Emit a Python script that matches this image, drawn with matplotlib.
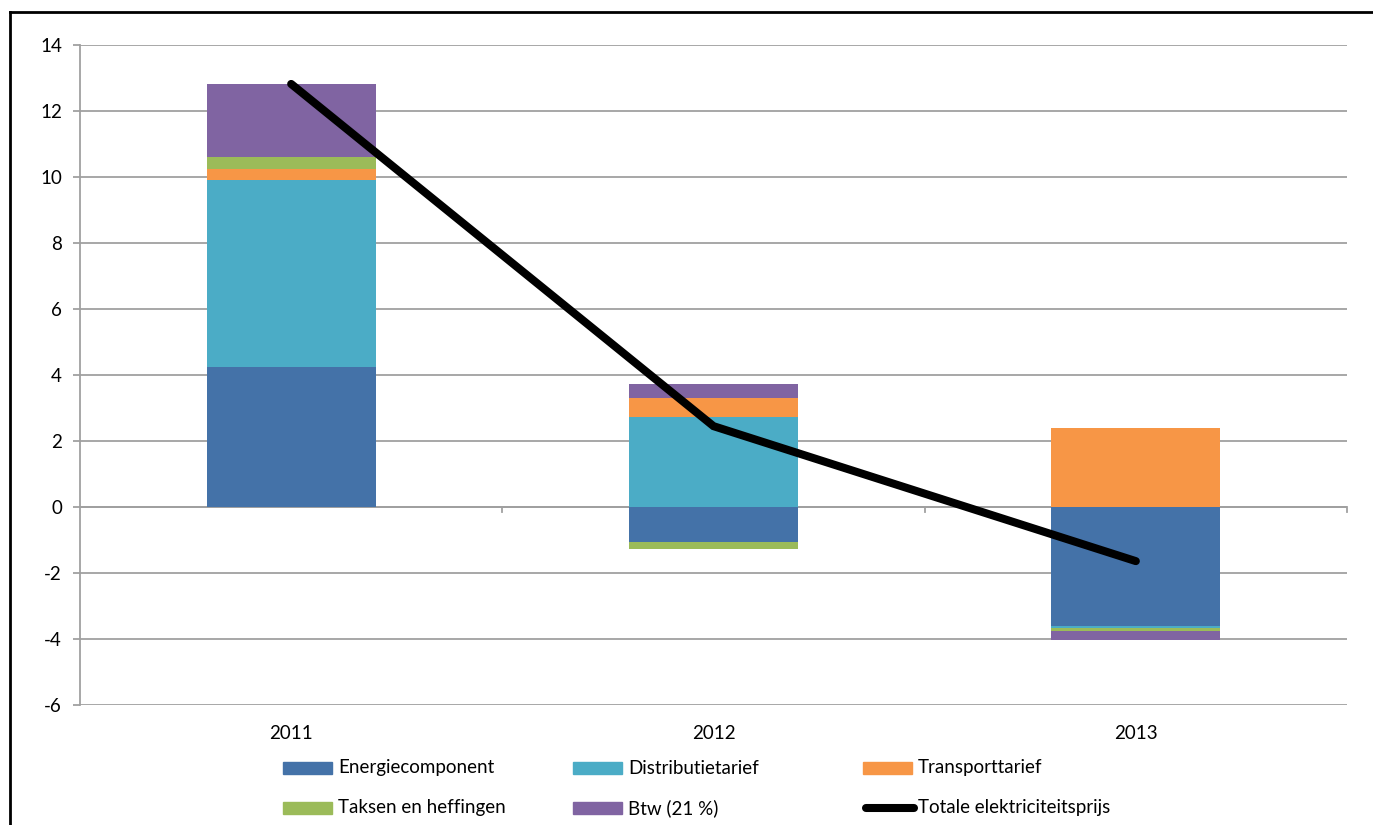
import numpy as np
import matplotlib.pyplot as plt
from matplotlib.patches import Rectangle
from matplotlib.lines import Line2D

plt.rcParams['font.family'] = ['Lato', 'DejaVu Sans']
plt.rcParams['axes.unicode_minus'] = False

# jaren en componenten (eurocent/kWh)
jaren = ['2011', '2012', '2013']
energie = [4.25, -1.06, -3.60]
distributie = [5.66, 2.73, -0.06]
transport = [0.33, 0.57, 2.39]
taksen = [0.36, -0.21, -0.10]
btw = [2.22, 0.43, -0.28]
totaal = [12.82, 2.45, -1.64]

namen = ['Energiecomponent', 'Distributietarief', 'Transporttarief',
         'Taksen en heffingen', 'Btw (21 %)']
kleuren = ['#4472a8', '#4bacc6', '#f79646', '#9bbb59', '#8064a2']
reeksen = [energie, distributie, transport, taksen, btw]

fs = 13.5

fig = plt.figure(figsize=(13.73, 8.25), dpi=100)
ax = fig.add_axes([80 / 1373, 1 - 705 / 825, 1267 / 1373, 660 / 825])

x = np.arange(len(jaren))
pos_basis = np.zeros(len(jaren))
neg_basis = np.zeros(len(jaren))
for waarden, kleur in zip(reeksen, kleuren):
    w = np.array(waarden)
    basis = np.where(w >= 0, pos_basis, neg_basis)
    ax.bar(x, w, width=0.4, bottom=basis, color=kleur, zorder=3)
    pos_basis = pos_basis + np.where(w >= 0, w, 0)
    neg_basis = neg_basis + np.where(w < 0, w, 0)

ax.plot(x, totaal, color='black', lw=5.8, solid_capstyle='round',
        solid_joinstyle='miter', zorder=4)

ax.set_xlim(-0.5, 2.5)
ax.set_ylim(-6, 14)
ax.set_yticks(range(-6, 15, 2))
ax.yaxis.grid(True, color='#a0a0a0', lw=1.3, zorder=0)
ax.set_xticks([])
for s in ['top', 'right', 'bottom']:
    ax.spines[s].set_visible(False)
ax.spines['left'].set_color('#a0a0a0')
ax.spines['left'].set_linewidth(1.3)
ax.tick_params(axis='y', length=5, color='#a0a0a0', width=1.3,
               labelsize=fs, pad=8)
ax.axhline(0, color='#a0a0a0', lw=1.3, zorder=2)
# kleine streepjes op de x-as
for b in [0.5, 1.5, 2.5]:
    ax.plot([b, b], [0, -0.15], color='#a0a0a0', lw=1.3, clip_on=False)
for xi, j in zip(x, jaren):
    ax.text(xi, -6.85, j, ha='center', va='center', fontsize=fs)

# legende
def px(xp, yp):
    return xp / 1373, 1 - yp / 825

items = list(zip(namen, kleuren))
plaatsen = [(283, 768), (573, 768), (863, 768), (283, 808), (573, 808)]
for (naam, kleur), (lx, ly) in zip(items, plaatsen):
    x0, y0 = px(lx, ly + 6)
    fig.add_artist(Rectangle((x0, y0), 49 / 1373, 12 / 825, color=kleur,
                             transform=fig.transFigure))
    fig.text(*px(lx + 55, ly), naam, fontsize=fs, va='center')
fig.add_artist(Line2D([px(866, 0)[0], px(914, 0)[0]], [px(0, 808)[1]] * 2,
                      color='black', lw=5.8, solid_capstyle='round',
                      transform=fig.transFigure))
fig.text(*px(918, 808), 'Totale elektriciteitsprijs', fontsize=fs, va='center')

# kader
fig.add_artist(Line2D([10 / 1373, 1], [1 - 12 / 825] * 2, color='black', lw=2,
                      transform=fig.transFigure))
fig.add_artist(Line2D([10 / 1373] * 2, [0, 1 - 12 / 825], color='black', lw=2,
                      transform=fig.transFigure))

fig.savefig('out.png', dpi=100)
